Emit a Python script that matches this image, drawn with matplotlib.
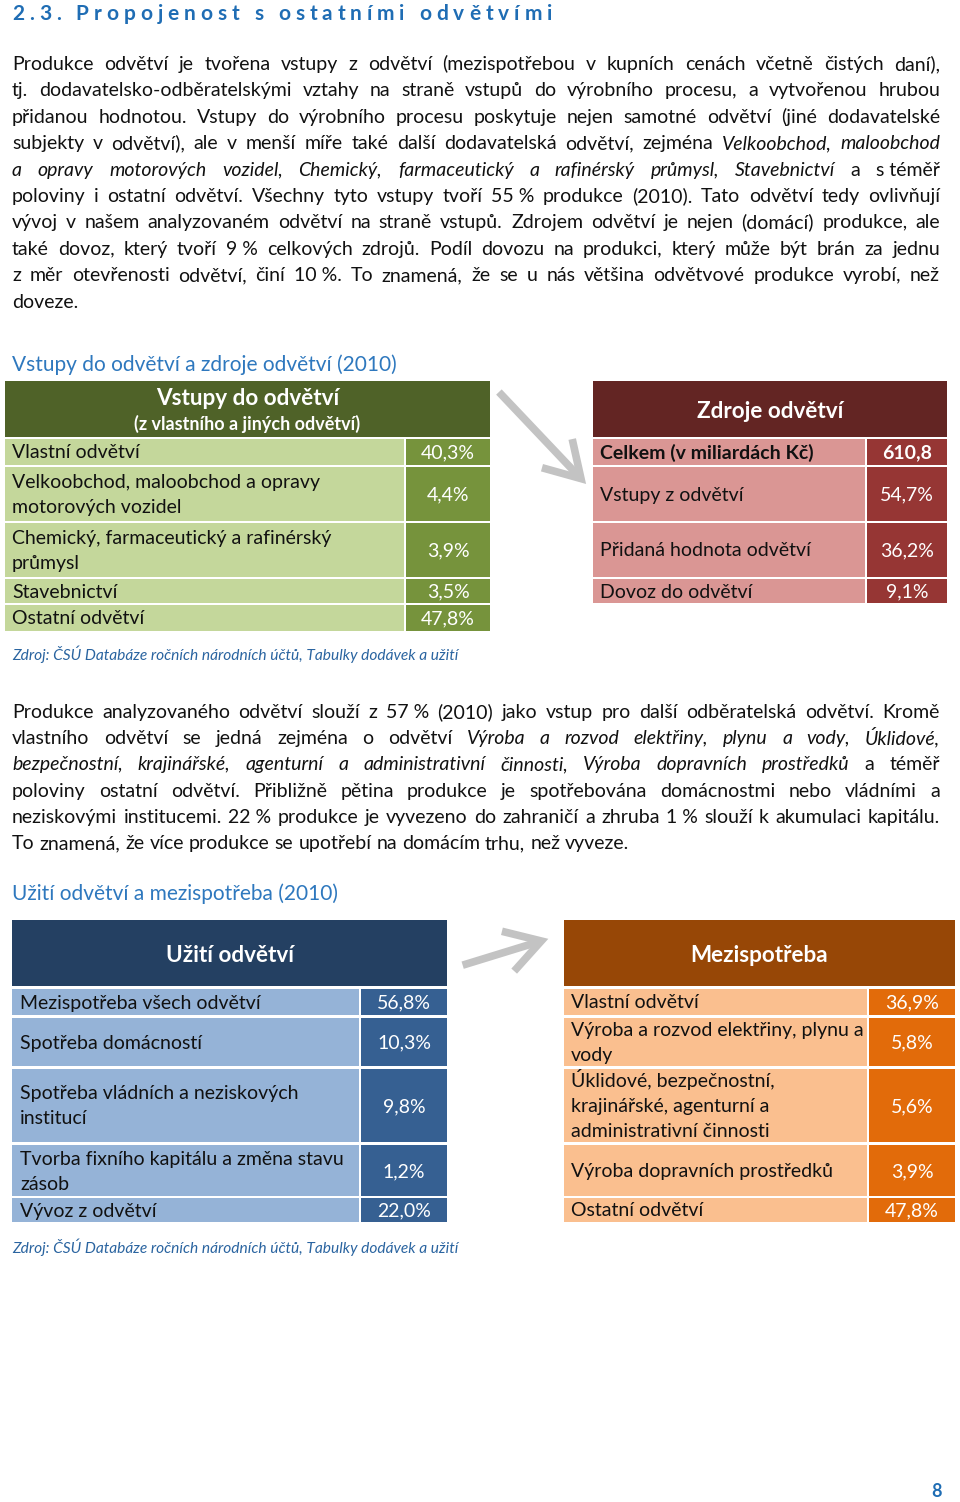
import matplotlib
matplotlib.use("agg")
import matplotlib.pyplot as plt
from matplotlib.patches import Rectangle, FancyArrowPatch

FONT = ["Lato", "DejaVu Sans"]
BODY = 14.0
CELL = 14.0
TITLE_BLUE = "#1F6DB4"
SUB_BLUE = "#2E78BE"
SRC_BLUE = "#2A64A0"

# ---- data ----
vstupy_labels = ["Vlastní odvětví",
                 "Velkoobchod, maloobchod a opravy\nmotorových vozidel",
                 "Chemický, farmaceutický a rafinérský\nprůmysl",
                 "Stavebnictví",
                 "Ostatní odvětví"]
vstupy_values = [40.3, 4.4, 3.9, 3.5, 47.8]

zdroje_total_label = "Celkem (v miliardách Kč)"
zdroje_total = 610.8
zdroje_labels = ["Vstupy z odvětví", "Přidaná hodnota odvětví", "Dovoz do odvětví"]
zdroje_values = [54.7, 36.2, 9.1]

uziti_labels = ["Mezispotřeba všech odvětví",
                "Spotřeba domácností",
                "Spotřeba vládních a neziskových\ninstitucí",
                "Tvorba fixního kapitálu a změna stavu\nzásob",
                "Vývoz z odvětví"]
uziti_values = [56.8, 10.3, 9.8, 1.2, 22.0]

mezi_labels = ["Vlastní odvětví",
               "Výroba a rozvod elektřiny, plynu a\nvody",
               "Úklidové, bezpečnostní,\nkrajinářské, agenturní a\nadministrativní činnosti",
               "Výroba dopravních prostředků",
               "Ostatní odvětví"]
mezi_values = [36.9, 5.8, 5.6, 3.9, 47.8]

source = "Zdroj: ČSÚ Databáze ročních národních účtů, Tabulky dodávek a užití"

# paragraph lines: list of (text, italic) segments; last line of each paragraph not justified
para1 = [
    [("Produkce odvětví je tvořena vstupy z odvětví (mezispotřebou v kupních cenách včetně čistých daní),", False)],
    [("tj. dodavatelsko-odběratelskými vztahy na straně vstupů do výrobního procesu, a vytvořenou hrubou", False)],
    [("přidanou hodnotou. Vstupy do výrobního procesu poskytuje nejen samotné odvětví (jiné dodavatelské", False)],
    [("subjekty v odvětví), ale v menší míře také další dodavatelská odvětví, zejména", False),
     ("Velkoobchod, maloobchod", True)],
    [("a opravy motorových vozidel, Chemický, farmaceutický a rafinérský průmysl, Stavebnictví", True),
     ("a s\u00a0téměř", False)],
    [("poloviny i ostatní odvětví. Všechny tyto vstupy tvoří 55\u00a0% produkce (2010). Tato odvětví tedy ovlivňují", False)],
    [("vývoj v našem analyzovaném odvětví na straně vstupů. Zdrojem odvětví je nejen (domácí) produkce, ale", False)],
    [("také dovoz, který tvoří 9\u00a0% celkových zdrojů. Podíl dovozu na produkci, který může být brán za jednu", False)],
    [("z měr otevřenosti odvětví, činí 10\u00a0%. To znamená, že se u nás většina odvětvové produkce vyrobí, než", False)],
    [("doveze.", False)],
]
para2 = [
    [("Produkce analyzovaného odvětví slouží z 57\u00a0% (2010) jako vstup pro další odběratelská odvětví. Kromě", False)],
    [("vlastního odvětví se jedná zejména o odvětví", False),
     ("Výroba a rozvod elektřiny, plynu a vody, Úklidové,", True)],
    [("bezpečnostní, krajinářské, agenturní a administrativní činnosti, Výroba dopravních prostředků", True),
     ("a téměř", False)],
    [("poloviny ostatní odvětví. Přibližně pětina produkce je spotřebována domácnostmi nebo vládními a", False)],
    [("neziskovými institucemi. 22\u00a0% produkce je vyvezeno do zahraničí a zhruba 1\u00a0% slouží k akumulaci kapitálu.", False)],
    [("To znamená, že více produkce se upotřebí na domácím trhu, než vyveze.", False)],
]


def pct(v):
    return f"{v:.1f}".replace(".", ",") + "%"


fig = plt.figure(figsize=(9.6, 15.02), dpi=100)
ax = fig.add_axes([0, 0, 1, 1])
ax.set_xlim(0, 960)
ax.set_ylim(1502, 0)
ax.axis("off")
renderer = fig.canvas.get_renderer()


def width_of(s, **kw):
    t = ax.text(0, 0, s, family=FONT, **kw)
    w = t.get_window_extent(renderer).width
    t.remove()
    return w


def paragraph(lines, y0, step, x0=12, x1=940):
    space = width_of("a a", fontsize=BODY) - width_of("aa", fontsize=BODY)
    for i, segs in enumerate(lines):
        y = y0 + i * step
        words = []
        for txt, it in segs:
            words += [(w, it) for w in txt.split(" ") if w]
        ws = [width_of(w.replace("\u00a0", " "), fontsize=BODY,
                       style="italic" if it else "normal") for w, it in words]
        last = i == len(lines) - 1
        gap = space if last or len(words) < 2 else (x1 - x0 - sum(ws)) / (len(words) - 1)
        x = x0
        for (w, it), wd in zip(words, ws):
            ax.text(x, y, w.replace("\u00a0", " "), fontsize=BODY, family=FONT,
                    style="italic" if it else "normal", color="#111111",
                    va="baseline", ha="left")
            x += wd + gap


def tracked(x0, x1, y, s, **kw):
    ws = [width_of(c, **kw) if c != " " else width_of("a a", **kw) - width_of("aa", **kw) for c in s]
    track = (x1 - x0 - sum(ws)) / (len(s) - 1)
    x = x0
    for c, wd in zip(s, ws):
        ax.text(x, y, c, family=FONT, va="baseline", ha="left", **kw)
        x += wd + track


def table(x0, xs, x1, edges, labels, values, lab_col, val_col, label_x, bold_first=False):
    # edges: list of (top, bottom) for each row
    for i, ((top, bot), lab, val) in enumerate(zip(edges, labels, values)):
        ax.add_patch(Rectangle((x0, top), xs - x0, bot - top, color=lab_col, lw=0))
        ax.add_patch(Rectangle((xs + 2, top), x1 - xs - 2, bot - top, color=val_col, lw=0))
        wt = "bold" if (bold_first and i == 0) else "normal"
        parts = lab.split("\n")
        mid = (top + bot) / 2
        n = len(parts)
        for k, p in enumerate(parts):
            yy = mid + (k - (n - 1) / 2) * 25 + 6.5
            ax.text(label_x, yy, p, fontsize=CELL, family=FONT, color="#111111",
                    va="baseline", ha="left", weight=wt)
        ax.text((xs + 2 + x1) / 2, mid + 6.5, val, fontsize=CELL, family=FONT, color="white",
                va="baseline", ha="center", weight=wt)


def arrow(p0, p1):
    ax.add_patch(FancyArrowPatch(p0, p1, arrowstyle="->,head_length=5,head_width=3",
                                 mutation_scale=5, color="#C3C3C3", lw=5.5,
                                 joinstyle="miter", capstyle="butt"))


# ---- title ----
tracked(12, 552, 20, "2.3. Propojenost s ostatními odvětvími", fontsize=15, weight="bold",
        color=TITLE_BLUE)

paragraph(para1, 70, 26.4)

ax.text(12, 371, "Vstupy do odvětví a zdroje odvětví (2010)", fontsize=15, family=FONT,
        color=SUB_BLUE, va="baseline")

# ---- table: vstupy ----
t1_edges = [(439, 465), (467, 521), (523, 577), (579, 603), (605, 631)]
ax.add_patch(Rectangle((5, 381), 485, 56, color="#4F6228", lw=0))
ax.text(247.5, 405, "Vstupy do odvětví", fontsize=16.2, weight="bold", family=FONT,
        color="white", ha="center", va="baseline")
ax.text(247.5, 430, "(z vlastního a jiných odvětví)", fontsize=13, weight="bold",
        family=FONT, color="white", ha="center", va="baseline")
table(5, 404, 490, t1_edges, vstupy_labels, [pct(v) for v in vstupy_values],
      "#C4D79B", "#76933C", 12)

# ---- table: zdroje ----
t2_edges = [(439, 465), (467, 521), (523, 577), (579, 603)]
ax.add_patch(Rectangle((593, 381), 354, 56, color="#632523", lw=0))
ax.text(770, 418, "Zdroje odvětví", fontsize=16.2, weight="bold", family=FONT,
        color="white", ha="center", va="baseline")
table(593, 865, 947, t2_edges, [zdroje_total_label] + zdroje_labels,
      [f"{zdroje_total:.1f}".replace(".", ",")] + [pct(v) for v in zdroje_values],
      "#DA9694", "#963634", 600, bold_first=True)

arrow((497, 390), (588, 486))

ax.text(12, 660, source, fontsize=11.2, style="italic", family=FONT, color=SRC_BLUE,
        va="baseline")

paragraph(para2, 718, 26.2)

ax.text(12, 900, "Užití odvětví a mezispotřeba (2010)", fontsize=15, family=FONT,
        color=SUB_BLUE, va="baseline")

# ---- table: uziti ----
t3_edges = [(989, 1015), (1018, 1066), (1069, 1142), (1145, 1196), (1198, 1222)]
ax.add_patch(Rectangle((12, 920), 435, 66, color="#244062", lw=0))
ax.text(230, 962, "Užití odvětví", fontsize=16.2, weight="bold", family=FONT,
        color="white", ha="center", va="baseline")
table(12, 359, 447, t3_edges, uziti_labels, [pct(v) for v in uziti_values],
      "#95B3D7", "#366092", 20)

# ---- table: mezispotreba ----
ax.add_patch(Rectangle((564, 920), 391, 66, color="#974706", lw=0))
ax.text(759, 962, "Mezispotřeba", fontsize=16.2, weight="bold", family=FONT,
        color="white", ha="center", va="baseline")
table(564, 867, 955, t3_edges, mezi_labels, [pct(v) for v in mezi_values],
      "#FABF8F", "#E26B0A", 571)

arrow((460, 966), (551, 938))

ax.text(12, 1253, source, fontsize=11.2, style="italic", family=FONT, color=SRC_BLUE,
        va="baseline")

ax.text(942, 1497, "8", fontsize=13, weight="bold", family=FONT, color=TITLE_BLUE,
        ha="right", va="baseline")

fig.savefig("out.png", dpi=100)
